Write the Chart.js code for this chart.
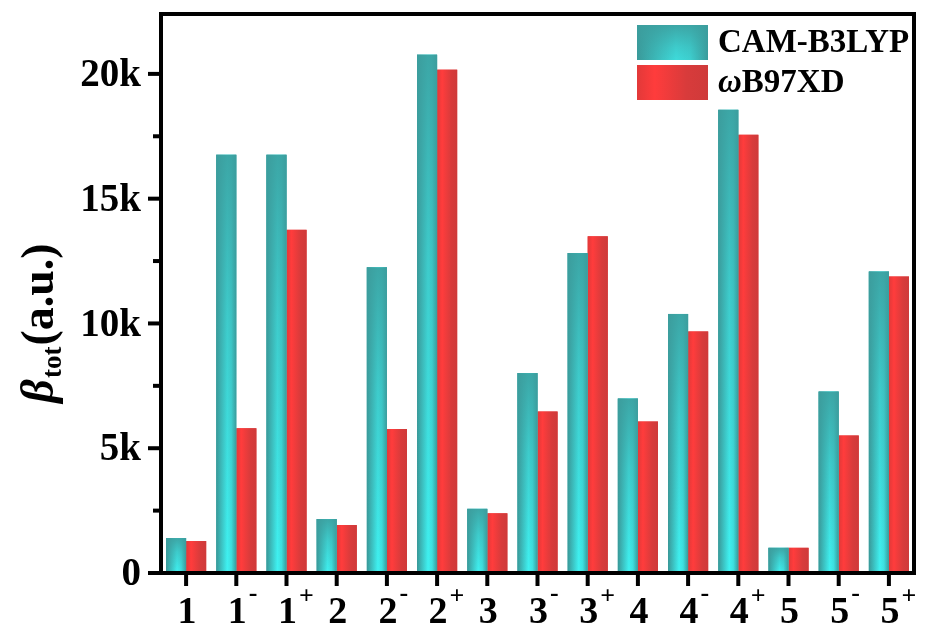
<!DOCTYPE html>
<html>
<head>
<meta charset="utf-8">
<script src="https://cdn.jsdelivr.net/npm/chart.js@4.4.1/dist/chart.umd.min.js"></script>
<style>
  body { margin: 0; background: #fff; }
  #wrap { width: 926px; height: 632px; }
</style>
</head>
<body>
<div id="wrap"><canvas id="betaChart"></canvas></div>
<script>
// values (a.u.)
const categories = ['1', '1-', '1+', '2', '2-', '2+', '3', '3-', '3+', '4', '4-', '4+', '5', '5-', '5+'];
const camB3lyp = [1400, 16760, 16760, 2160, 12250, 20770, 2570, 8010, 12820, 6990, 10380, 18560, 1010, 7270, 12080];
const wB97xd = [1280, 5800, 13750, 1920, 5770, 20170, 2390, 6470, 13490, 6070, 9680, 17560, 1010, 5510, 11880];
const seriesNames = ['CAM-B3LYP', 'ωB97XD'];
const yLabelled = [0, 5000, 10000, 15000, 20000];
const yMinor = [2500, 7500, 12500, 17500];
const yMax = 22400;

const SERIF = '"Liberation Serif", "Times New Roman", serif';

function tealFill(ctx, x0, x1) {
  const g = ctx.createLinearGradient(x0, 0, x1, 0);
  g.addColorStop(0, '#399797');
  g.addColorStop(0.55, '#3ff2f2');
  g.addColorStop(0.75, '#3de2e2');
  g.addColorStop(1, '#389a9a');
  return g;
}

function redFill(ctx, x0, x1) {
  const g = ctx.createLinearGradient(x0, 0, x1, 0);
  g.addColorStop(0, '#e23939');
  g.addColorStop(0.25, '#ff3c3c');
  g.addColorStop(0.7, '#d83b3b');
  g.addColorStop(1, '#cf3a3a');
  return g;
}

function tealShade(ctx, top, bottom) {
  const g = ctx.createLinearGradient(0, top, 0, bottom);
  g.addColorStop(0, 'rgba(60,158,158,0.9)');
  g.addColorStop(0.4, 'rgba(60,158,158,0.45)');
  g.addColorStop(1, 'rgba(60,158,158,0)');
  return g;
}

const decor = {
  id: 'decor',
  // repaint each bar the library placed with a shaded fill
  afterDatasetDraw(chart, args) {
    const ctx = chart.ctx;
    ctx.save();
    args.meta.data.forEach((el) => {
      const x0 = el.x - el.width / 2, x1 = el.x + el.width / 2;
      ctx.fillStyle = args.index === 0 ? tealFill(ctx, x0, x1) : redFill(ctx, x0, x1);
      ctx.fillRect(x0, el.y, el.width, el.base - el.y);
      if (args.index === 0) {
        ctx.fillStyle = tealShade(ctx, el.y, el.base);
        ctx.fillRect(x0, el.y, el.width, el.base - el.y);
      }
    });
    ctx.restore();
  },
  afterDraw(chart) {
    const ctx = chart.ctx;
    const a = chart.chartArea;
    const xs = chart.scales.x, ys = chart.scales.y;
    ctx.save();

    // frame
    ctx.strokeStyle = '#000';
    ctx.lineWidth = 4;
    ctx.strokeRect(a.left, a.top, a.right - a.left, a.bottom - a.top);

    // y ticks and labels
    ctx.fillStyle = '#000';
    ctx.font = 'bold 39px ' + SERIF;
    ctx.textAlign = 'right';
    ctx.textBaseline = 'middle';
    yLabelled.concat(yMinor).forEach((v) => {
      const y = ys.getPixelForValue(v);
      const major = yLabelled.includes(v);
      ctx.beginPath();
      ctx.moveTo(a.left - (major ? 13 : 8), y);
      ctx.lineTo(a.left, y);
      ctx.stroke();
      if (major) ctx.fillText(v === 0 ? '0' : v / 1000 + 'k', 141, y + 2);
    });

    // x ticks + labels with superscripts
    categories.forEach((lab, i) => {
      const x = xs.getPixelForValue(i);
      ctx.beginPath();
      ctx.moveTo(x, a.bottom);
      ctx.lineTo(x, a.bottom + 13);
      ctx.stroke();

      const base = lab[0], sup = lab.slice(1);
      ctx.font = 'bold 38px ' + SERIF;
      ctx.textAlign = 'center';
      ctx.textBaseline = 'alphabetic';
      const bw = ctx.measureText(base).width;
      ctx.fillText(base, x + 1, 623);
      if (sup) {
        ctx.font = 'bold 26px ' + SERIF;
        ctx.textAlign = 'left';
        ctx.fillText(sup, x + 1 + bw / 2 + 2, sup === '+' ? 604 : 601);
      }
    });

    // y title: β_tot(a.u.)
    ctx.translate(53, 323);
    ctx.rotate(-Math.PI / 2);
    ctx.textAlign = 'left';
    ctx.textBaseline = 'alphabetic';
    const fBeta = 'italic bold 46px ' + SERIF;
    const fSub = 'bold 27px ' + SERIF;
    const fMain = 'bold 46px ' + SERIF;
    ctx.font = fBeta; const w1 = ctx.measureText('β').width;
    ctx.font = fSub; const w2 = ctx.measureText('tot').width;
    ctx.font = fMain; const w3 = ctx.measureText('(a.u.)').width;
    let x = -(w1 + w2 + w3 + 2) / 2;
    ctx.font = fBeta; ctx.fillText('β', x, 0); x += w1 + 1;
    ctx.font = fSub; ctx.fillText('tot', x, 8); x += w2 + 1;
    ctx.font = fMain; ctx.fillText('(a.u.)', x, 0);
    ctx.setTransform(1, 0, 0, 1, 0, 0);

    // legend inside the plot, top right
    const bx = 637, bw = 71, bh = 35;
    [25, 65].forEach((by, i) => {
      ctx.fillStyle = i === 0 ? tealFill(ctx, bx, bx + bw) : redFill(ctx, bx, bx + bw);
      ctx.fillRect(bx, by, bw, bh);
      if (i === 0) {
        ctx.fillStyle = tealShade(ctx, by, by + bh * 1.6);
        ctx.fillRect(bx, by, bw, bh);
      }
      ctx.fillStyle = '#000';
      ctx.textAlign = 'left';
      ctx.textBaseline = 'middle';
      const name = seriesNames[i];
      if (name[0] === 'ω') {
        ctx.font = 'italic bold 33px ' + SERIF;
        ctx.fillText('ω', 718, by + bh / 2 + 1);
        const ow = ctx.measureText('ω').width;
        ctx.font = 'bold 33px ' + SERIF;
        ctx.fillText(name.slice(1), 718 + ow, by + bh / 2 + 1);
      } else {
        ctx.font = 'bold 33px ' + SERIF;
        ctx.fillText(name, 718, by + bh / 2 + 1);
      }
    });

    ctx.restore();
  }
};

new Chart(document.getElementById('betaChart'), {
  type: 'bar',
  data: {
    labels: categories,
    datasets: [
      { label: seriesNames[0], data: camB3lyp, backgroundColor: '#3fb8b8', borderWidth: 0 },
      { label: seriesNames[1], data: wB97xd, backgroundColor: '#e83b3b', borderWidth: 0 },
    ],
  },
  options: {
    responsive: true,
    maintainAspectRatio: false,
    animation: false,
    layout: { padding: { top: 14, right: 12, left: 0, bottom: 0 } },
    plugins: { legend: { display: false }, tooltip: { enabled: false } },
    datasets: { bar: { categoryPercentage: 0.8, barPercentage: 1.0 } },
    scales: {
      x: {
        grid: { display: false },
        border: { display: false },
        ticks: { display: false },
        afterFit: (scale) => { scale.height = 59; },
      },
      y: {
        min: 0,
        max: yMax,
        grid: { display: false, drawTicks: false },
        border: { display: false },
        ticks: { display: false },
        afterFit: (scale) => { scale.width = 161; },
      },
    },
  },
  plugins: [decor],
});
</script>
</body>
</html>
